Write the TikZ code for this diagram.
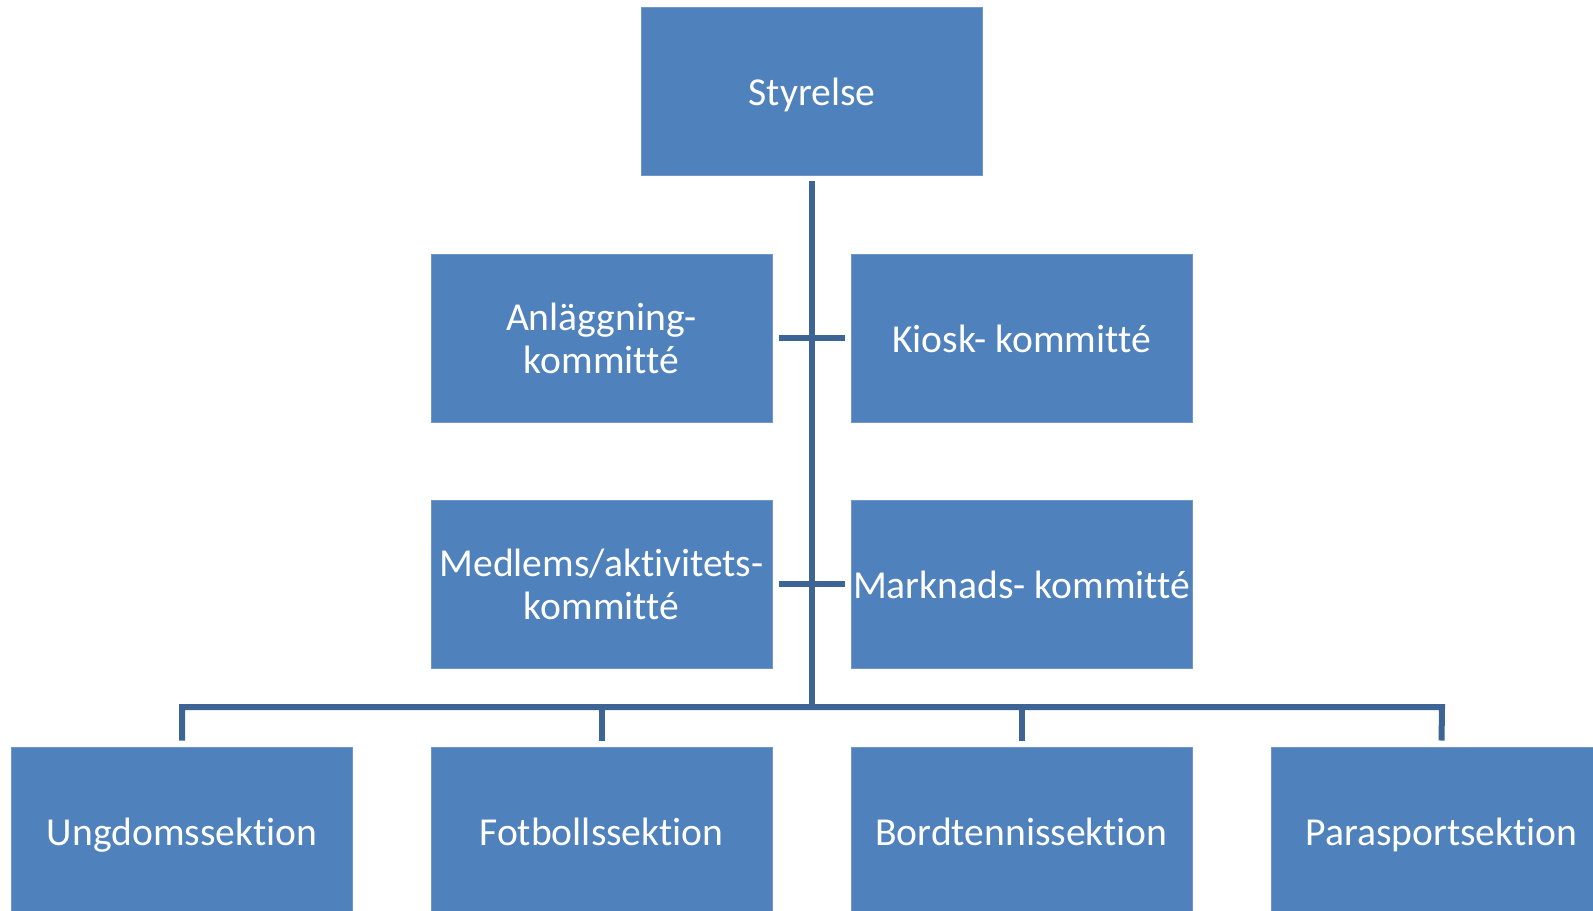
\documentclass[tikz,border=0pt]{standalone}
\usepackage{fontspec}
\setmainfont{Carlito}[Ligatures={NoCommon}]
\definecolor{boxblue}{HTML}{4F81BD}
\definecolor{boxedge}{HTML}{6F97C9}
\definecolor{linkblue}{HTML}{3C6494}
\begin{document}
\begin{tikzpicture}[x=0.5pt,y=-0.5pt,
  orgbox/.style={rectangle, fill=boxblue, draw=boxedge, line width=0.5pt,
    minimum width=170.5pt, minimum height=84pt, inner sep=0pt, text=white,
    align=center, font=\fontsize{19.8}{21.5}\selectfont},
  oneline/.style={orgbox, text height=14pt, text depth=0pt},
  link/.style={draw=linkblue, line width=3pt}]
\useasboundingbox (0,0) rectangle (1593,910);
\clip (0,0) rectangle (1593,910);
\fill[white] (0,0) rectangle (1593,910);
\node[oneline] (sty) at (812,91) {Styrelse};
\node[orgbox] (anl) at (601.5,338) {Anläggning-\\kommitté};
\node[oneline] (kio) at (1021.5,338) {Kiosk- kommitté};
\node[orgbox] (med) at (601.5,584) {Medlems/aktivitets-\\kommitté};
\node[oneline] (mar) at (1021.5,584) {Marknads- kommitté};
\node[oneline] (ung) at (182,831) {Ungdomssektion};
\node[oneline] (fot) at (601.5,831) {Fotbollssektion};
\node[oneline] (bor) at (1021.5,831) {Bordtennissektion};
\node[oneline] (par) at (1441.5,831) {Parasportsektion};
\coordinate (top) at (812,181);
\coordinate (bot) at (812,710);
\coordinate (busL) at (182,707);
\coordinate (busR) at (1442,707);
\draw[link] (top) -- (bot);
\draw[link] ([xshift=3pt]anl.east) -- ([xshift=-3pt]kio.west);
\draw[link] ([xshift=3pt]med.east) -- ([xshift=-3pt]mar.west);
\draw[link] ([yshift=3pt]ung.north) -- (busL) -- (busR) -- ([yshift=3pt]par.north);
\draw[link] ([yshift=3pt]fot.north) -- (fot.north |- busL);
\draw[link] ([yshift=3pt]bor.north) -- (bor.north |- busL);
\end{tikzpicture}
\end{document}
